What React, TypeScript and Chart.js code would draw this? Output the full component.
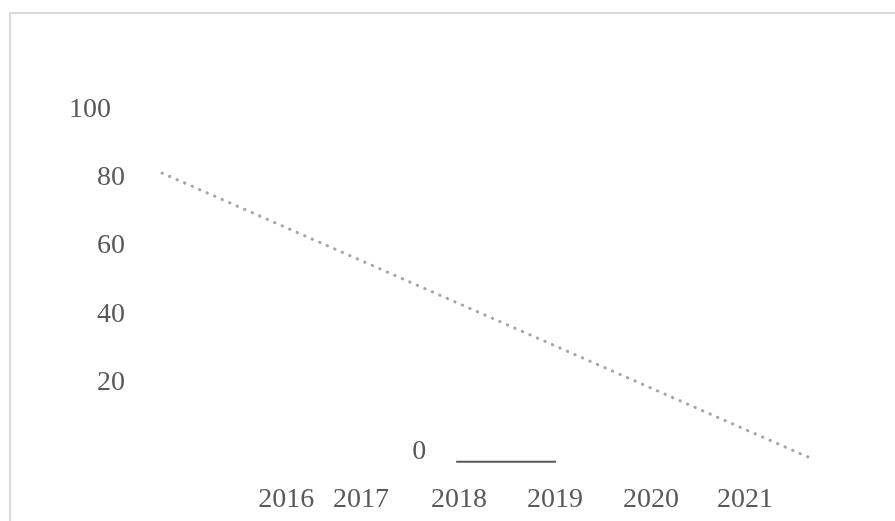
import React, { useEffect, useRef } from "react";
import { Chart, registerables } from "chart.js";

Chart.register(...registerables);

// Year labels along the bottom, and where each sits on the year scale
const years = ["2016", "2017", "2018", "2019", "2020", "2021"];
const yearLabelAt = [2016.2, 2016.98, 2018, 2019, 2020, 2020.98];
const yearLabelLevel = -14.3;

// Value labels on the left (right-aligned at the given year position)
const valueTicks = [100, 80, 60, 40, 20, 0];
const valueTickAt = [2014.375, 2014.52, 2014.52, 2014.52, 2014.52, 2017.66];

// Dotted trend line
const trendX = [2014.906, 2021.635];
const trendY = [80.7, -2.34];

// Short solid base segment
const baseX = [2017.97, 2019.01];
const baseY = [-3.7, -3.7];

const TEXT_COLOR = "#595959";
const FONT_SIZE = 28;
const FONT = `${FONT_SIZE}px 'Liberation Serif', 'Times New Roman', serif`;
// distance from a digit's visual middle down to the alphabetic baseline
const DIGIT_HALF = FONT_SIZE * 0.34;

const framePlugin = {
  id: "frame",
  beforeDraw(chart: Chart) {
    const { ctx, width, height } = chart;
    ctx.save();
    ctx.fillStyle = "#ffffff";
    ctx.fillRect(0, 0, width, height);
    ctx.strokeStyle = "#d9d9d9";
    ctx.lineWidth = 2;
    ctx.beginPath();
    ctx.moveTo(10, height);
    ctx.lineTo(10, 13);
    ctx.lineTo(width, 13);
    ctx.stroke();
    ctx.restore();
  },
};

const labelPlugin = {
  id: "axisLabels",
  afterDraw(chart: Chart) {
    const { ctx } = chart;
    const xs = chart.scales.x;
    const ys = chart.scales.y;
    ctx.save();
    ctx.fillStyle = TEXT_COLOR;
    ctx.font = FONT;
    ctx.textBaseline = "alphabetic";
    ctx.textAlign = "right";
    valueTicks.forEach((v, i) => {
      ctx.fillText(String(v), xs.getPixelForValue(valueTickAt[i]), ys.getPixelForValue(v) + DIGIT_HALF);
    });
    ctx.textAlign = "center";
    const yy = ys.getPixelForValue(yearLabelLevel) + DIGIT_HALF;
    years.forEach((label, i) => {
      ctx.fillText(label, xs.getPixelForValue(yearLabelAt[i]), yy);
    });
    ctx.restore();
  },
};

export default function App() {
  const canvasRef = useRef<HTMLCanvasElement | null>(null);

  useEffect(() => {
    if (!canvasRef.current) return;
    const chart = new Chart(canvasRef.current, {
      type: "line",
      data: {
        datasets: [
          {
            data: trendX.map((x, i) => ({ x, y: trendY[i] })),
            borderColor: "#a6a6a6",
            borderWidth: 3,
            borderDash: [0.4, 7.8],
            borderCapStyle: "round",
            pointRadius: 0,
            fill: false,
          },
          {
            data: baseX.map((x, i) => ({ x, y: baseY[i] })),
            borderColor: "#595959",
            borderWidth: 2,
            pointRadius: 0,
            fill: false,
          },
        ],
      },
      options: {
        animation: false,
        responsive: false,
        devicePixelRatio: 1,
        layout: { padding: 0 },
        plugins: { legend: { display: false }, tooltip: { enabled: false } },
        scales: {
          x: { type: "linear", display: false, min: 2013.21875, max: 2022.54167 },
          y: { type: "linear", display: false, min: -21.05, max: 131.29 },
        },
      },
      plugins: [framePlugin, labelPlugin],
    });
    return () => chart.destroy();
  }, []);

  return (
    <div style={{ position: "absolute", left: 0, top: 0, width: 895, height: 521 }}>
      <canvas ref={canvasRef} width={895} height={521} />
    </div>
  );
}
